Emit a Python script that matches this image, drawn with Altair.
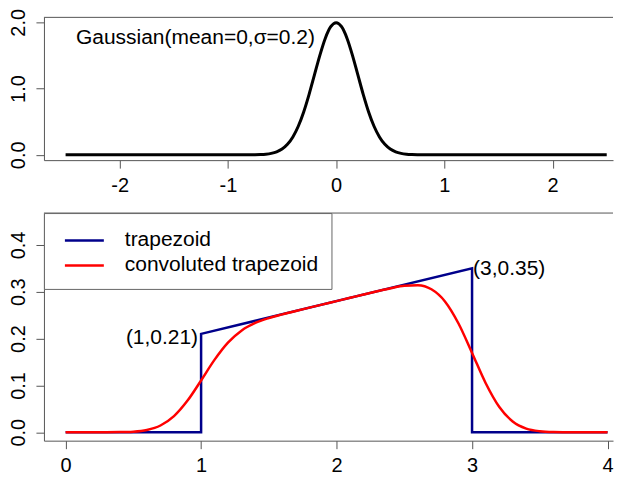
import altair as alt
import pandas as pd

FONT = "Liberation Sans"

# ---- data: Gaussian(mean=0, sigma=0.2) ----
gauss_x = [-2.5, -1.0, -0.95, -0.9, -0.85, -0.8, -0.75, -0.7, -0.65, -0.6, -0.55,
           -0.5, -0.45, -0.4, -0.35, -0.3, -0.25, -0.2, -0.15, -0.1, -0.05, 0.0,
           0.05, 0.1, 0.15, 0.2, 0.25, 0.3, 0.35, 0.4, 0.45, 0.5, 0.55, 0.6, 0.65,
           0.7, 0.75, 0.8, 0.85, 0.9, 0.95, 1.0, 2.5]
gauss_y = [0.0, 0.0, 0.0, 0.0001, 0.0002, 0.0007, 0.0018, 0.0044, 0.0101, 0.0222, 0.0455,
           0.0876, 0.1587, 0.2700, 0.4314, 0.6476, 0.9132, 1.2099, 1.5057, 1.7603, 1.9333, 1.9947,
           1.9333, 1.7603, 1.5057, 1.2099, 0.9132, 0.6476, 0.4314, 0.2700, 0.1587, 0.0876, 0.0455, 0.0222, 0.0101,
           0.0044, 0.0018, 0.0007, 0.0002, 0.0001, 0.0, 0.0, 0.0]
gauss_label = ["Gaussian(mean=0,\u03c3=0.2)"]
gauss_label_x = [-1.3]
gauss_label_y = [1.76]

# ---- data: trapezoid and its convolution (bottom panel) ----
trap_x = [0, 1, 1, 3, 3, 4]
trap_y = [0, 0, 0.21, 0.35, 0, 0]

conv_x = [0.0, 0.1, 0.2, 0.3, 0.4, 0.5, 0.6, 0.7, 0.8, 0.9,
          1.0, 1.1, 1.2, 1.3, 1.4, 1.5, 1.6, 1.7, 1.8, 1.9,
          2.0, 2.1, 2.2, 2.3, 2.4, 2.5, 2.6, 2.7, 2.8, 2.9,
          3.0, 3.1, 3.2, 3.3, 3.4, 3.5, 3.6, 3.7, 3.8, 3.9, 4.0]
conv_y = [0.0, 0.0, 0.0, 0.00005, 0.0003, 0.0013, 0.0049, 0.0144, 0.0345, 0.0676,
          0.1106, 0.1550, 0.1918, 0.2174, 0.2333, 0.2437, 0.2517, 0.2590, 0.2660, 0.2730,
          0.2800, 0.2870, 0.2940, 0.3009, 0.3075, 0.3128, 0.3139, 0.3052, 0.2793, 0.2322,
          0.1694, 0.1052, 0.0544, 0.0230, 0.0078, 0.0022, 0.0005, 0.0001, 0.0, 0.0, 0.0]

series_names = ["trapezoid", "convoluted trapezoid"]
series_colors = ["#00008B", "#FF0000"]

point_labels = ["(1,0.21)", "(3,0.35)"]
point_x = [1, 3]
point_y = [0.21, 0.35]

# ---- frames ----
gdf = pd.DataFrame({"x": gauss_x, "y": gauss_y})
gl = pd.DataFrame({"x": gauss_label_x, "y": gauss_label_y, "t": gauss_label})
tdf = pd.DataFrame({"x": trap_x, "y": trap_y, "s": series_names[0], "o": list(range(len(trap_x)))})
cdf = pd.DataFrame({"x": conv_x, "y": conv_y, "s": series_names[1], "o": list(range(len(conv_x)))})
ldf = pd.DataFrame({"x": point_x, "y": point_y, "t": point_labels})
one = pd.DataFrame({"k": [0]})

W = 570
H1 = 143
H2 = 228
LINE = "#555555"

# ---- top panel ----
sx1 = alt.Scale(domain=[-2.7, 2.558], nice=False, zero=False)
sy1 = alt.Scale(domain=[-0.0798, 2.0745], nice=False, zero=False)
xtop = alt.X("x:Q", scale=sx1,
             axis=alt.Axis(values=[-2, -1, 0, 1, 2], title=None, labelExpr="toString(datum.value)"))
ytop = alt.Y("y:Q", scale=sy1, axis=alt.Axis(values=[0, 1, 2], format=".1f", title=None))

top_line = alt.Chart(gdf).mark_line(color="black", strokeWidth=3, interpolate="monotone").encode(x=xtop, y=ytop)
top_text = alt.Chart(gl).mark_text(font=FONT, fontSize=21, align="center", baseline="middle", color="black").encode(
    x="x:Q", y="y:Q", text="t:N")
top_border = alt.Chart(one).mark_rule(color=LINE, strokeWidth=1).encode(y=alt.value(0))
top = alt.layer(top_line, top_text, top_border).properties(width=W, height=H1)

# ---- bottom panel ----
sx2 = alt.Scale(domain=[-0.16, 4.0404], nice=False, zero=False)
sy2 = alt.Scale(domain=[-0.018, 0.468], nice=False, zero=False)
xb = alt.X("x:Q", scale=sx2,
           axis=alt.Axis(values=[0, 1, 2, 3, 4], title=None, labelExpr="toString(datum.value)"))
yb = alt.Y("y:Q", scale=sy2, axis=alt.Axis(values=[0, 0.1, 0.2, 0.3, 0.4], format=".1f", title=None))
col = alt.Color("s:N", scale=alt.Scale(domain=series_names, range=series_colors),
                legend=alt.Legend(title=None, orient="top-left", offset=0, padding=13,
                                  symbolType="M-0.5,0H2.5", symbolSize=676, symbolStrokeWidth=2.5,
                                  labelOffset=39, rowPadding=0, labelFontSize=21, labelFont=FONT,
                                  labelLimit=400, labelColor="black", strokeColor="#666666",
                                  fillColor="white", cornerRadius=0))

trap = alt.Chart(tdf).mark_line(strokeWidth=2.5).encode(x=xb, y=yb, color=col, order="o:Q")
conv = alt.Chart(cdf).mark_line(strokeWidth=2.5, interpolate="monotone").encode(x=xb, y=yb, color=col, order="o:Q")
bot_border = alt.Chart(one).mark_rule(color=LINE, strokeWidth=1).encode(y=alt.value(0))
lab1 = alt.Chart(ldf.iloc[[0]]).mark_text(font=FONT, fontSize=21, align="right", baseline="middle", dx=-3, dy=4,
                                           color="black").encode(x="x:Q", y="y:Q", text="t:N")
lab2 = alt.Chart(ldf.iloc[[1]]).mark_text(font=FONT, fontSize=21, align="left", baseline="middle", dx=1, dy=1,
                                           color="black").encode(x="x:Q", y="y:Q", text="t:N")
bottom = alt.layer(trap, conv, bot_border, lab1, lab2).properties(width=W, height=H2)

chart = alt.vconcat(top, bottom, spacing=17).resolve_legend(color="independent").properties(padding=0).configure_view(
    stroke=None
).configure_axis(
    domain=True, domainColor=LINE, domainWidth=1, grid=False, tickColor=LINE, tickSize=8,
    labelFont=FONT, labelFontSize=20, labelColor="black"
).configure_axisX(
    labelPadding=7, minExtent=35, maxExtent=35
).configure_axisY(
    labelAngle=270, labelAlign="center", labelBaseline="alphabetic", labelPadding=11,
    minExtent=36, maxExtent=36
)

chart.save("out.html", embed_options={"renderer": "svg", "actions": False})
